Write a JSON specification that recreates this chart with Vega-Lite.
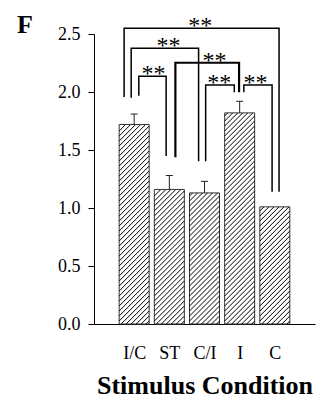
{
  "$schema": "https://vega.github.io/schema/vega-lite/v6.json",
  "width": 221,
  "height": 290,
  "autosize": {"type": "none"},
  "padding": {"left": 94, "top": 34, "right": 6, "bottom": 78},
  "background": "white",
  "config": {
    "view": {"stroke": null},
    "font": "Liberation Serif",
    "axis": {"grid": false, "domainColor": "black", "domainWidth": 1, "tickColor": "black", "tickWidth": 1, "labelColor": "black", "titleColor": "black", "labelFont": "Liberation Serif", "titleFont": "Liberation Serif"},
    "axisX": {"labelOverlap": false, "labelSeparation": 0, "labelBound": false}
  },
  "title": {"text": "F", "anchor": "start", "frame": "group", "font": "Liberation Serif", "fontSize": 26, "fontWeight": "bold", "color": "black", "dx": -77, "dy": 45, "offset": 0, "baseline": "alphabetic"},
  "datasets": {
    "bars": [
      {"cond": "I/C", "pos": 1, "value": 1.72, "hi": 1.81},
      {"cond": "ST", "pos": 2, "value": 1.16, "hi": 1.28},
      {"cond": "C/I", "pos": 3, "value": 1.13, "hi": 1.23},
      {"cond": "I", "pos": 4, "value": 1.82, "hi": 1.92},
      {"cond": "C", "pos": 5, "value": 1.01, "hi": null}
    ],
    "brackets": [
      {"id": "IC-C", "seq": 1, "x": 0.714, "y": 1.957},
      {"id": "IC-C", "seq": 2, "x": 0.714, "y": 2.549},
      {"id": "IC-C", "seq": 3, "x": 5.12, "y": 2.549},
      {"id": "IC-C", "seq": 4, "x": 5.12, "y": 1.141},
      {"id": "IC-CI", "seq": 1, "x": 0.915, "y": 1.951},
      {"id": "IC-CI", "seq": 2, "x": 0.915, "y": 2.377},
      {"id": "IC-CI", "seq": 3, "x": 2.832, "y": 2.377},
      {"id": "IC-CI", "seq": 4, "x": 2.832, "y": 1.403},
      {"id": "IC-ST", "seq": 1, "x": 1.132, "y": 1.968},
      {"id": "IC-ST", "seq": 2, "x": 1.132, "y": 2.135},
      {"id": "IC-ST", "seq": 3, "x": 1.909, "y": 2.135},
      {"id": "IC-ST", "seq": 4, "x": 1.909, "y": 1.448},
      {"id": "ST-I", "seq": 1, "x": 2.172, "y": 1.437},
      {"id": "ST-I", "seq": 2, "x": 2.172, "y": 2.252},
      {"id": "ST-I", "seq": 3, "x": 3.983, "y": 2.252},
      {"id": "ST-I", "seq": 4, "x": 3.983, "y": 1.997},
      {"id": "CI-I", "seq": 1, "x": 3.033, "y": 1.403},
      {"id": "CI-I", "seq": 2, "x": 3.033, "y": 2.06},
      {"id": "CI-I", "seq": 3, "x": 3.847, "y": 2.06},
      {"id": "CI-I", "seq": 4, "x": 3.847, "y": 1.997},
      {"id": "I-C", "seq": 1, "x": 4.119, "y": 1.997},
      {"id": "I-C", "seq": 2, "x": 4.119, "y": 2.06},
      {"id": "I-C", "seq": 3, "x": 4.922, "y": 2.06},
      {"id": "I-C", "seq": 4, "x": 4.922, "y": 1.141}
    ],
    "stars": [
      {"id": "IC-C", "x": 2.878, "y": 2.549, "sig": "**"},
      {"id": "IC-CI", "x": 1.974, "y": 2.377, "sig": "**"},
      {"id": "IC-ST", "x": 1.548, "y": 2.135, "sig": "**"},
      {"id": "ST-I", "x": 3.285, "y": 2.252, "sig": "**"},
      {"id": "CI-I", "x": 3.421, "y": 2.06, "sig": "**"},
      {"id": "I-C", "x": 4.453, "y": 2.06, "sig": "**"}
    ]
  },
  "layer": [
    {
      "data": {"name": "bars"},
      "mark": {"type": "bar", "size": 30, "fill": "white", "stroke": "#333333", "strokeWidth": 1},
      "encoding": {
        "x": {"field": "pos", "type": "quantitative", "scale": {"domain": [0, 6], "nice": false, "zero": false},
          "axis": {"values": [1, 2, 3, 4, 5], "labelExpr": "datum.value === 1 ? 'I/C' : datum.value === 2 ? 'ST' : datum.value === 3 ? 'C/I' : datum.value === 4 ? 'I' : 'C'", "ticks": false,
            "labelPadding": 20, "labelFontSize": 18, "labelFlush": false, "labelOverlap": false,
            "title": "Stimulus Condition", "titleFontSize": 26, "titleFontWeight": "bold", "titlePadding": 10}},
        "y": {"field": "value", "type": "quantitative", "scale": {"domain": [0, 2.5], "nice": false},
          "axis": {"values": [0, 0.25, 0.5, 0.75, 1, 1.25, 1.5, 1.75, 2, 2.25, 2.5], "labelExpr": "datum.value % 0.5 === 0 ? format(datum.value, '.1f') : ''",
            "tickSize": {"condition": {"test": "datum.value % 0.5 === 0", "value": 6}, "value": 4},
            "labelPadding": 8, "labelFontSize": 18, "labelOverlap": false, "title": null}}
      }
    },
    {
      "data": {"name": "bars"},
      "mark": {"type": "point", "size": 4, "filled": false, "stroke": "black", "strokeWidth": 1, "opacity": 1},
      "encoding": {
        "x": {"field": "pos", "type": "quantitative"},
        "y": {"datum": 0, "type": "quantitative"},
        "shape": {"field": "cond", "type": "nominal", "legend": null, "scale": {"domain": ["I/C", "ST", "C/I", "I", "C"], "range": [
          "M12,0l3,-3M7,0l8,-8M2,0l13,-13M-3,0l18,-18M-8,0l23,-23M-13,0l28,-28M-15,-3l30,-30M-15,-8l30,-30M-15,-13l30,-30M-15,-18l30,-30M-15,-23l30,-30M-15,-28l30,-30M-15,-33l30,-30M-15,-38l30,-30M-15,-43l30,-30M-15,-48l30,-30M-15,-53l30,-30M-15,-58l30,-30M-15,-63l30,-30M-15,-68l30,-30M-15,-73l30,-30M-15,-78l30,-30M-15,-83l30,-30M-15,-88l30,-30M-15,-93l30,-30M-15,-98l30,-30M-15,-103l30,-30M-15,-108l30,-30M-15,-113l30,-30M-15,-118l30,-30M-15,-123l30,-30M-15,-128l30,-30M-15,-133l30,-30M-15,-138l30,-30M-15,-143l30,-30M-15,-148l30,-30M-15,-153l30,-30M-15,-158l30,-30M-15,-163l30,-30M-15,-168l30,-30M-15,-173l26,-26M-15,-178l21,-21M-15,-183l16,-16M-15,-188l11,-11M-15,-193l6,-6",
          "M12,0l3,-3M7,0l8,-8M2,0l13,-13M-3,0l18,-18M-8,0l23,-23M-13,0l28,-28M-15,-3l30,-30M-15,-8l30,-30M-15,-13l30,-30M-15,-18l30,-30M-15,-23l30,-30M-15,-28l30,-30M-15,-33l30,-30M-15,-38l30,-30M-15,-43l30,-30M-15,-48l30,-30M-15,-53l30,-30M-15,-58l30,-30M-15,-63l30,-30M-15,-68l30,-30M-15,-73l30,-30M-15,-78l30,-30M-15,-83l30,-30M-15,-88l30,-30M-15,-93l30,-30M-15,-98l30,-30M-15,-103l30,-30M-15,-108l26,-26M-15,-113l21,-21M-15,-118l16,-16M-15,-123l11,-11M-15,-128l6,-6",
          "M12,0l3,-3M7,0l8,-8M2,0l13,-13M-3,0l18,-18M-8,0l23,-23M-13,0l28,-28M-15,-3l30,-30M-15,-8l30,-30M-15,-13l30,-30M-15,-18l30,-30M-15,-23l30,-30M-15,-28l30,-30M-15,-33l30,-30M-15,-38l30,-30M-15,-43l30,-30M-15,-48l30,-30M-15,-53l30,-30M-15,-58l30,-30M-15,-63l30,-30M-15,-68l30,-30M-15,-73l30,-30M-15,-78l30,-30M-15,-83l30,-30M-15,-88l30,-30M-15,-93l30,-30M-15,-98l30,-30M-15,-103l28,-28M-15,-108l23,-23M-15,-113l18,-18M-15,-118l13,-13M-15,-123l8,-8M-15,-128l3,-3",
          "M12,0l3,-3M7,0l8,-8M2,0l13,-13M-3,0l18,-18M-8,0l23,-23M-13,0l28,-28M-15,-3l30,-30M-15,-8l30,-30M-15,-13l30,-30M-15,-18l30,-30M-15,-23l30,-30M-15,-28l30,-30M-15,-33l30,-30M-15,-38l30,-30M-15,-43l30,-30M-15,-48l30,-30M-15,-53l30,-30M-15,-58l30,-30M-15,-63l30,-30M-15,-68l30,-30M-15,-73l30,-30M-15,-78l30,-30M-15,-83l30,-30M-15,-88l30,-30M-15,-93l30,-30M-15,-98l30,-30M-15,-103l30,-30M-15,-108l30,-30M-15,-113l30,-30M-15,-118l30,-30M-15,-123l30,-30M-15,-128l30,-30M-15,-133l30,-30M-15,-138l30,-30M-15,-143l30,-30M-15,-148l30,-30M-15,-153l30,-30M-15,-158l30,-30M-15,-163l30,-30M-15,-168l30,-30M-15,-173l30,-30M-15,-178l30,-30M-15,-183l28,-28M-15,-188l23,-23M-15,-193l18,-18M-15,-198l13,-13M-15,-203l8,-8M-15,-208l3,-3",
          "M12,0l3,-3M7,0l8,-8M2,0l13,-13M-3,0l18,-18M-8,0l23,-23M-13,0l28,-28M-15,-3l30,-30M-15,-8l30,-30M-15,-13l30,-30M-15,-18l30,-30M-15,-23l30,-30M-15,-28l30,-30M-15,-33l30,-30M-15,-38l30,-30M-15,-43l30,-30M-15,-48l30,-30M-15,-53l30,-30M-15,-58l30,-30M-15,-63l30,-30M-15,-68l30,-30M-15,-73l30,-30M-15,-78l30,-30M-15,-83l30,-30M-15,-88l29,-29M-15,-93l24,-24M-15,-98l19,-19M-15,-103l14,-14M-15,-108l9,-9M-15,-113l4,-4"
        ]}}
      }
    },
    {
      "data": {"name": "bars"},
      "transform": [{"filter": "isValid(datum.hi)"}],
      "mark": {"type": "rule", "stroke": "#222222", "strokeWidth": 1},
      "encoding": {
        "x": {"field": "pos", "type": "quantitative"},
        "y": {"field": "value", "type": "quantitative"},
        "y2": {"field": "hi"}
      }
    },
    {
      "data": {"name": "bars"},
      "transform": [{"filter": "isValid(datum.hi)"}],
      "mark": {"type": "tick", "orient": "horizontal", "size": 7, "thickness": 1, "color": "#222222", "opacity": 1},
      "encoding": {
        "x": {"field": "pos", "type": "quantitative"},
        "y": {"field": "hi", "type": "quantitative"}
      }
    },
    {
      "data": {"name": "brackets"},
      "mark": {"type": "line", "color": "black", "strokeCap": "butt", "strokeJoin": "miter"},
      "encoding": {
        "x": {"field": "x", "type": "quantitative"},
        "y": {"field": "y", "type": "quantitative"},
        "detail": {"field": "id"},
        "order": {"field": "seq"},
        "strokeWidth": {"condition": {"test": "datum.id === 'ST-I'", "value": 2.2}, "value": 1.5}
      }
    },
    {
      "data": {"name": "stars"},
      "mark": {"type": "text", "font": "Liberation Serif", "fontSize": 24, "align": "center", "baseline": "alphabetic", "dy": 5, "color": "black"},
      "encoding": {
        "x": {"field": "x", "type": "quantitative"},
        "y": {"field": "y", "type": "quantitative"},
        "text": {"field": "sig"}
      }
    }
  ]
}
